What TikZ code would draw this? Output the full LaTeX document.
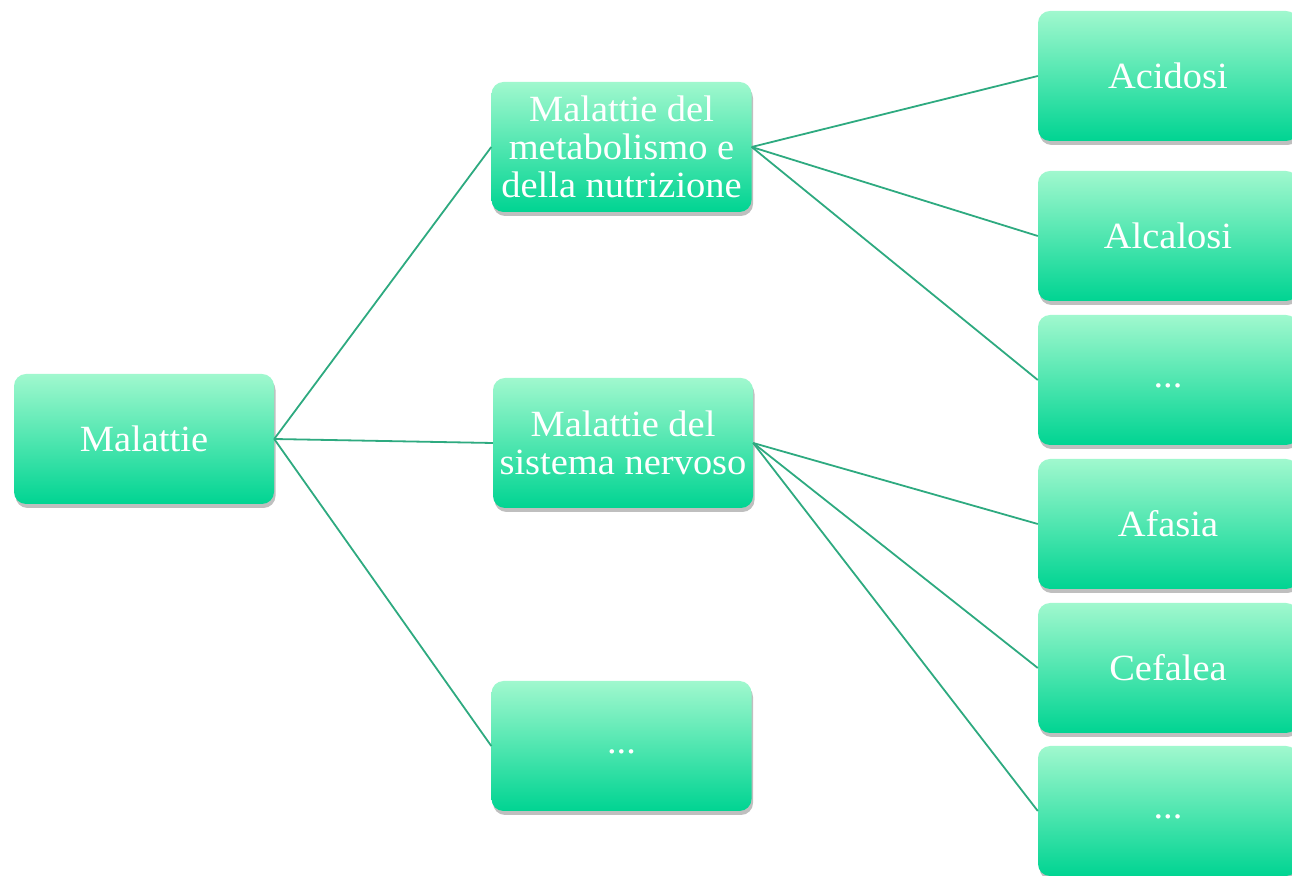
\documentclass[tikz,border=0pt]{standalone}
\usepackage{fontspec}
\setmainfont[FakeStretch=1.04]{Liberation Serif}
\usetikzlibrary{shadows}
\definecolor{boxtop}{HTML}{A0F8CE}
\definecolor{boxbot}{HTML}{00D492}
\definecolor{edgecol}{HTML}{2EAA80}
\begin{document}
\begin{tikzpicture}[x=1bp,y=1bp,
  box/.style={rectangle,rounded corners=12bp,minimum width=260bp,minimum height=130bp,
    inner sep=0pt,top color=boxtop,bottom color=boxbot,text=white,align=center,
    font=\fontsize{37bp}{38bp}\selectfont,
    drop shadow={shadow xshift=1.5bp,shadow yshift=-4bp,opacity=0.25,fill=black}},
  link/.style={draw=edgecol,line width=1.8bp},
]
\clip (0bp,0bp) rectangle (1292bp,876bp);
%%
  % Node: Malattie
  \node[box] (mal) at (144bp,437bp) {Malattie};
  % Node: Metabolismo
  \node[box] (meta) at (621.5bp,729bp) {Malattie del\\metabolismo e\\della nutrizione};
  % Node: Nervoso
  \node[box] (nerv) at (623bp,433bp) {Malattie del\\sistema nervoso};
  % Node: Altro1
  \node[box] (altroA) at (621.5bp,130bp) {\strut...};
  % Node: Acidosi
  \node[box] (acid) at (1168bp,800bp) {Acidosi};
  % Node: Alcalosi
  \node[box] (alca) at (1168bp,640bp) {Alcalosi};
  % Node: Altro2
  \node[box] (altroB) at (1168bp,496bp) {\strut...};
  % Node: Afasia
  \node[box] (afas) at (1168bp,352bp) {Afasia};
  % Node: Cefalea
  \node[box] (cefa) at (1168bp,208bp) {Cefalea};
  % Node: Altro3
  \node[box] (altroC) at (1168bp,65bp) {\strut...};
%
  % Edge: Malattie -> Metabolismo
  \draw[link] (mal.east) -- (meta.west);
  % Edge: Malattie -> Nervoso
  \draw[link] (mal.east) -- (nerv.west);
  % Edge: Malattie -> Altro1
  \draw[link] (mal.east) -- (altroA.west);
  % Edge: Metabolismo -> Acidosi
  \draw[link] (meta.east) -- (acid.west);
  % Edge: Metabolismo -> Alcalosi
  \draw[link] (meta.east) -- (alca.west);
  % Edge: Metabolismo -> Altro2
  \draw[link] (meta.east) -- (altroB.west);
  % Edge: Nervoso -> Afasia
  \draw[link] (nerv.east) -- (afas.west);
  % Edge: Nervoso -> Cefalea
  \draw[link] (nerv.east) -- (cefa.west);
  % Edge: Nervoso -> Altro3
  \draw[link] (nerv.east) -- (altroC.west);
%
\end{tikzpicture}
\end{document}
